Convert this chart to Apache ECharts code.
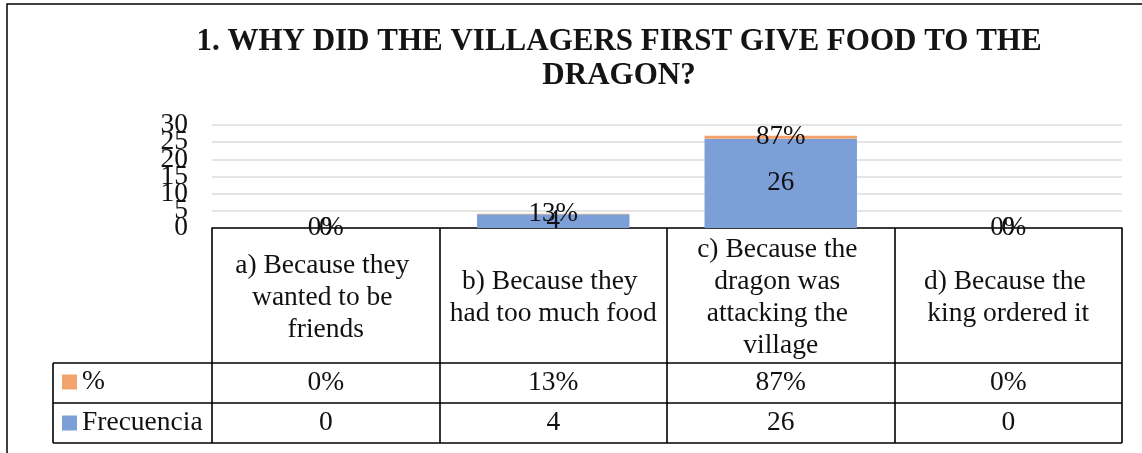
<!DOCTYPE html>
<html>
<head>
<meta charset="utf-8">
<script src="https://cdn.jsdelivr.net/npm/echarts@6/dist/echarts.min.js"></script>
<style>
  html, body { margin: 0; padding: 0; background: #fff; }
  #main { width: 1142px; height: 453px; }
</style>
</head>
<body>
<div id="main"></div>
<script>
var categories = [
  "a) Because they wanted to be friends",
  "b) Because they had too much food",
  "c) Because the dragon was attacking the village",
  "d) Because the king ordered it"
];
var frecuencia = [0, 4, 26, 0];
var porcentaje = [0, 0.13, 0.87, 0];
var yTicks = { min: 0, max: 30, interval: 5 };

var FONT = '"Liberation Serif", "Times New Roman", serif';
var BLUE = "#7b9fd6";
var ORANGE = "#f3a36d";

// plot box
var gLeft = 212, gRight = 20, gTop = 125, gBottom = 225;
var W = 1142, H = 453;
var axisY = H - gBottom;          // 228
var rowPct = 363, rowFreq = 403, rowEnd = 443;
var legendLeft = 53;

function pct(v) { return Math.round(v * 100) + "%"; }

// the tick labels crowd each other, so even and odd steps go on two stacked axes
function yAxisFor(odd, withGrid) {
  return {
    type: "value",
    position: "left",
    min: yTicks.min,
    max: yTicks.max,
    interval: yTicks.interval,
    axisLine: { show: false },
    axisTick: { show: false },
    splitLine: { show: withGrid, lineStyle: { color: "#dcdcdc", width: 1.5 } },
    axisLabel: {
      margin: 24,
      showMinLabel: true,
      showMaxLabel: true,
      formatter: function (v) {
        return ((v / yTicks.interval) % 2 === 1) === odd ? String(v) : "";
      },
      fontFamily: FONT, fontSize: 27.5, color: "#111"
    }
  };
}

var chart = echarts.init(document.getElementById("main"));

var option = {
  animation: false,
  title: {
    text: "1. WHY DID THE VILLAGERS FIRST GIVE FOOD TO THE\nDRAGON?",
    left: 619,
    top: 25,
    padding: 0,
    textAlign: "center",
    textStyle: {
      fontFamily: FONT,
      fontWeight: "bold",
      fontSize: 31,
      lineHeight: 34,
      color: "#141414"
    }
  },
  legend: {
    data: ["%", "Frecuencia"],
    orient: "vertical",
    left: 62,
    top: 368,
    padding: 0,
    itemGap: 13,
    itemWidth: 15,
    itemHeight: 15,
    icon: "rect",
    selectedMode: false,
    textStyle: { fontFamily: FONT, fontSize: 27.5, lineHeight: 27, color: "#111" }
  },
  grid: { left: gLeft, right: gRight, top: gTop, bottom: gBottom },
  xAxis: [
    {
      type: "category",
      data: categories,
      axisLine: { show: true, lineStyle: { color: "#000", width: 1.6 } },
      axisTick: {
        show: true,
        alignWithLabel: false,
        length: rowEnd - axisY,
        lineStyle: { color: "#000", width: 1.6 }
      },
      axisLabel: {
        interval: 0,
        margin: 70,
        verticalAlign: "middle",
        width: 212,
        overflow: "break",
        fontFamily: FONT,
        fontSize: 27.5,
        lineHeight: 32,
        color: "#111"
      }
    },
    {
      type: "category",
      data: porcentaje.map(pct),
      position: "bottom",
      offset: rowPct - axisY,
      axisLine: { show: false },
      axisTick: { show: false },
      axisLabel: {
        interval: 0, margin: 20, verticalAlign: "middle",
        fontFamily: FONT, fontSize: 27.5, color: "#111"
      }
    },
    {
      type: "category",
      data: frecuencia.map(String),
      position: "bottom",
      offset: rowFreq - axisY,
      axisLine: { show: false },
      axisTick: { show: false },
      axisLabel: {
        interval: 0, margin: 20, verticalAlign: "middle",
        fontFamily: FONT, fontSize: 27.5, color: "#111"
      }
    }
  ],
  yAxis: [yAxisFor(false, true), yAxisFor(true, false)],
  series: [
    {
      name: "Frecuencia",
      type: "bar",
      stack: "total",
      data: frecuencia,
      barCategoryGap: "33%",
      itemStyle: { color: BLUE },
      label: {
        show: true, position: "inside",
        fontFamily: FONT, fontSize: 27, color: "#111"
      }
    },
    {
      name: "%",
      type: "bar",
      stack: "total",
      data: porcentaje,
      barCategoryGap: "33%",
      itemStyle: { color: ORANGE },
      label: {
        show: true, position: "inside",
        formatter: function (p) { return pct(p.value); },
        fontFamily: FONT, fontSize: 27, color: "#111"
      }
    }
  ],
  graphic: [
    // outer chart border
    { type: "rect", shape: { x: 7, y: 4, width: 1300, height: 600 },
      style: { fill: "none", stroke: "#000", lineWidth: 1.5 }, silent: true },
    // data table rows
    { type: "line", shape: { x1: legendLeft, y1: rowPct, x2: W - gRight, y2: rowPct },
      style: { stroke: "#000", lineWidth: 1.6 } },
    { type: "line", shape: { x1: legendLeft, y1: rowFreq, x2: W - gRight, y2: rowFreq },
      style: { stroke: "#000", lineWidth: 1.6 } },
    { type: "line", shape: { x1: legendLeft, y1: rowEnd, x2: W - gRight, y2: rowEnd },
      style: { stroke: "#000", lineWidth: 1.6 } },
    { type: "line", shape: { x1: legendLeft, y1: rowPct, x2: legendLeft, y2: rowEnd },
      style: { stroke: "#000", lineWidth: 1.6 } }
  ]
};

chart.setOption(option);
</script>
</body>
</html>
